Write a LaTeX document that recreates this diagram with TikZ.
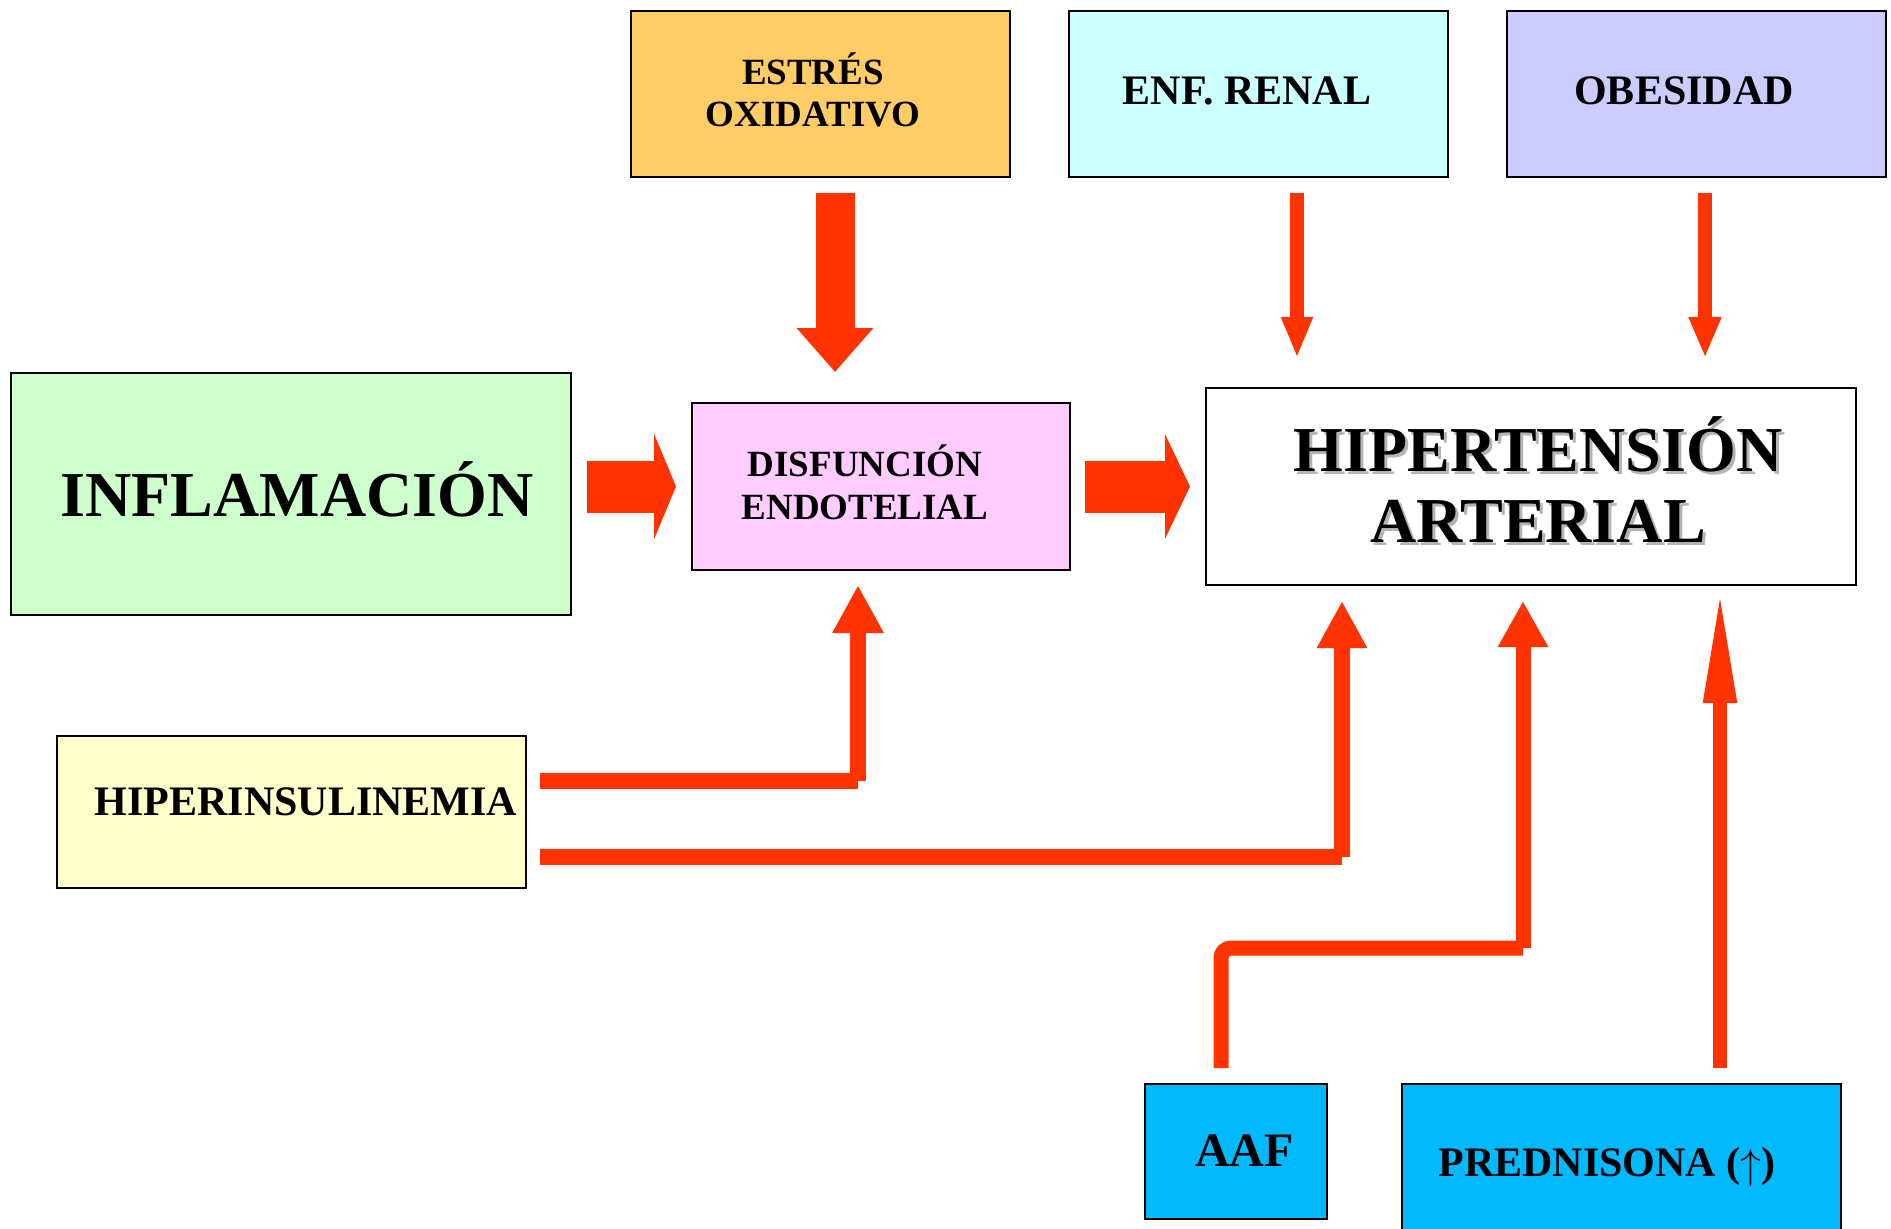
\documentclass[tikz,border=0pt]{standalone}
\usepackage{fontspec}
\setmainfont{Liberation Serif}
\usetikzlibrary{arrows.meta,calc}
\definecolor{arrowred}{HTML}{FF3300}
\definecolor{cEstres}{HTML}{FFCC66}
\definecolor{cRenal}{HTML}{CCFFFF}
\definecolor{cObes}{HTML}{CCCCFF}
\definecolor{cInfl}{HTML}{CCFFCC}
\definecolor{cDisf}{HTML}{FFCCFF}
\definecolor{cHiper}{HTML}{FFFFCC}
\definecolor{cBlue}{HTML}{00B9FF}
\definecolor{cShadow}{HTML}{B4B4B4}
\begin{document}
\begin{tikzpicture}[x=1pt,y=-1pt,
  box/.style={draw=black, line width=2pt, inner sep=0pt},
  txt/.style={align=center, inner sep=0pt, anchor=base},
  conn/.style={draw=arrowred, line width=#1},
  conn/.default=16pt]
\useasboundingbox (0,0) rectangle (1891,1229);
\fill[white] (0,0) rectangle (1891,1229);

% boxes
\node[box, fill=cEstres, minimum width=379pt, minimum height=166pt] (estres) at (820.5,94) {};
\node[box, fill=cRenal, minimum width=379pt, minimum height=166pt] (renal) at (1258.5,94) {};
\node[box, fill=cObes, minimum width=379pt, minimum height=166pt] (obes) at (1696.5,94) {};
\node[box, fill=cInfl, minimum width=560pt, minimum height=242pt] (infl) at (291,494) {};
\node[box, fill=cDisf, minimum width=378pt, minimum height=167pt] (disf) at (881,486.5) {};
\node[box, fill=white, minimum width=650pt, minimum height=197pt] (hta) at (1531,486.5) {};
\node[box, fill=cHiper, minimum width=469pt, minimum height=152pt] (hiper) at (291.5,812) {};
\node[box, fill=cBlue, minimum width=182pt, minimum height=135pt] (aaf) at (1236,1151.5) {};
\node[box, fill=cBlue, minimum width=439pt, minimum height=150pt] (pred) at (1621.5,1159) {};

% texts (for two-line texts the base anchor is the last line's baseline)
\node[txt, font=\bfseries\fontsize{37}{42}\selectfont] (estrest) at (813,126) {ESTRÉS\\OXIDATIVO};
\node[txt, font=\bfseries\fontsize{42}{48}\selectfont] (renalt) at (1247,104) {ENF. RENAL};
\node[txt, font=\bfseries\fontsize{42}{48}\selectfont] (obest) at (1684,104) {OBESIDAD};
\node[txt, font=\bfseries\fontsize{64}{78}\selectfont] (inflt) at (297,516) {INFLAMACIÓN};
\node[txt, font=\bfseries\fontsize{37}{43}\selectfont] (disft) at (865,519) {DISFUNCIÓN\\ENDOTELIAL};
\node[txt, font=\bfseries\fontsize{64}{71}\selectfont, text=cShadow] (htas) at (1541,545) {HIPERTENSIÓN\\ARTERIAL};
\node[txt, font=\bfseries\fontsize{64}{71}\selectfont] (htat) at (1538,542) {HIPERTENSIÓN\\ARTERIAL};
\node[txt, font=\bfseries\fontsize{42}{48}\selectfont] (hipert) at (306,815) {HIPERINSULINEMIA};
\node[txt, font=\bfseries\fontsize{48}{56}\selectfont] (aaft) at (1244.5,1166) {AAF};
\node[txt, font=\bfseries\fontsize{42}{48}\selectfont] (predt) at (1607,1176)
  {PREDNISONA (\raisebox{-2pt}{\resizebox*{!}{37pt}{$\uparrow$}})};

% block arrows
\draw[conn=39pt, -{Triangle[length=44pt,width=74pt]}, shorten <=15pt, shorten >=30pt]
  ([xshift=14.5pt]estres.south) -- ([xshift=14.5pt]estres.south |- disf.north);
\draw[conn=52pt, -{Triangle[length=22pt,width=105pt]}, shorten <=15pt, shorten >=15pt]
  (infl.east |- disf.west) -- (disf.west);
\draw[conn=52pt, -{Triangle[length=25pt,width=104pt]}, shorten <=14pt, shorten >=15pt]
  (disf.east) -- (disf.east -| hta.west);

% thin arrows from top
\draw[conn=14pt, -{Triangle[length=41pt,width=29pt]}, shorten <=15pt, shorten >=29pt]
  ([xshift=38.5pt]renal.south) -- ([xshift=38.5pt]renal.south |- hta.north);
\draw[conn=14pt, -{Triangle[length=41pt,width=30pt]}, shorten <=15pt, shorten >=29pt]
  ([xshift=8.5pt]obes.south) -- ([xshift=8.5pt]obes.south |- hta.north);

% hiperinsulinemia connectors
\coordinate (c1) at ($(disf.south |- hiper.east)+(-23,-31)$);
\draw[conn=16pt, shorten <=13pt] ([yshift=31pt]hiper.east) -- (c1);
\draw[conn=16pt, -{Triangle[length=48pt,width=48pt]}, shorten >=14pt] (c1) -- (c1 |- disf.south);
\coordinate (c2) at ($(hta.south |- hiper.east)+(-189,45)$);
\draw[conn=16pt, shorten <=13pt] ([yshift=-45pt]hiper.east) -- (c2);
\draw[conn=16pt, -{Triangle[length=47pt,width=47pt]}, shorten >=15pt] (c2) -- (c2 |- hta.south);

% AAF connector
\coordinate (c3) at ($(hta.south |- aaf.north)+(-8,-135)$);
\draw[conn=15pt, rounded corners=10pt, shorten <=15pt] ([xshift=-15pt]aaf.north) |- (c3);
\draw[conn=15pt, -{Triangle[length=46pt,width=47pt]}, shorten >=15pt] (c3) -- (c3 |- hta.south);

% prednisona connector
\draw[conn=14pt, -{Triangle[length=116pt,width=30pt]}, shorten <=15pt, shorten >=1pt]
  ([xshift=98.5pt]pred.north) -- ([xshift=98.5pt]pred.north |- hta.south);
\end{tikzpicture}
\end{document}
